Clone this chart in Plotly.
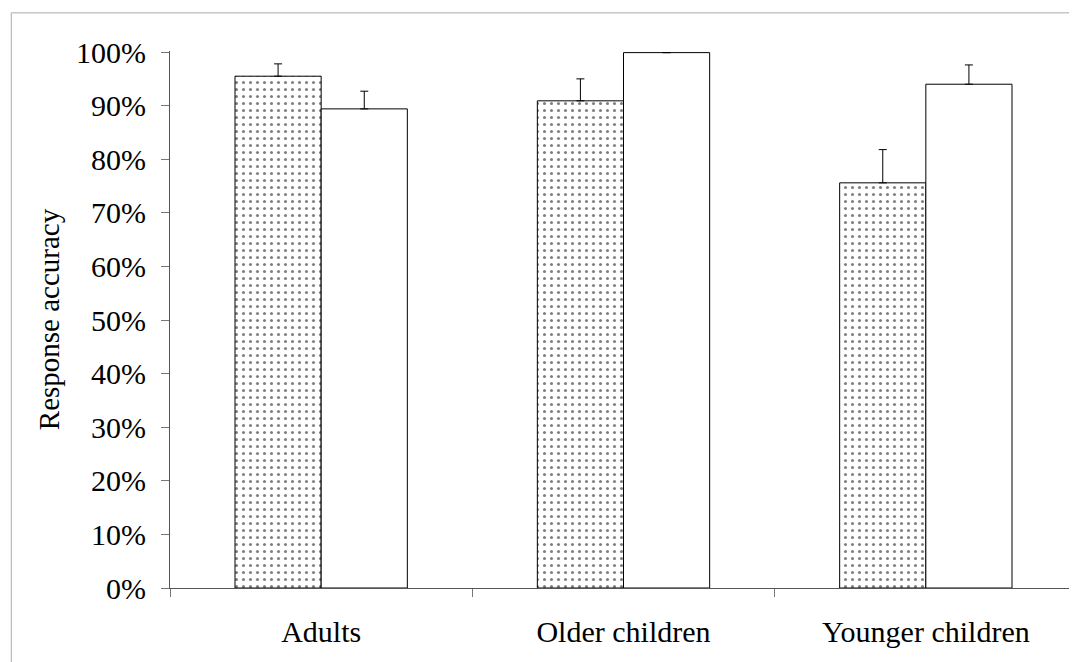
import plotly.graph_objects as go

categories = ["Adults", "Older children", "Younger children"]
series_a_values = [95.5, 90.9, 75.6]
series_a_errors = [2.3, 4.1, 6.2]
series_b_values = [89.4, 99.9, 94.0]
series_b_errors = [3.3, 0.0, 3.6]
y_tick_values = [0, 10, 20, 30, 40, 50, 60, 70, 80, 90, 100]
y_tick_labels = ["0%", "10%", "20%", "30%", "40%", "50%", "60%", "70%", "80%", "90%", "100%"]

font_family = "Liberation Serif, Times New Roman, serif"

fig = go.Figure()
fig.add_trace(go.Bar(
    x=categories, y=series_a_values,
    marker=dict(color="white", line=dict(color="black", width=1),
                pattern=dict(shape=".", fgcolor="black", bgcolor="white", size=7, solidity=0.15)),
    error_y=dict(type="data", symmetric=False, array=series_a_errors,
                 arrayminus=[0, 0, 0], color="black", thickness=1, width=4),
    showlegend=False,
))
fig.add_trace(go.Bar(
    x=categories, y=series_b_values,
    marker=dict(color="white", line=dict(color="black", width=1)),
    error_y=dict(type="data", symmetric=False, array=series_b_errors,
                 arrayminus=[0, 0, 0], color="black", thickness=1, width=4),
    showlegend=False,
))

fig.update_layout(
    width=1069, height=654,
    margin=dict(l=162, r=0, t=43, b=74),
    paper_bgcolor="white", plot_bgcolor="white",
    barmode="group", bargap=0.43, bargroupgap=0,
    font=dict(family=font_family, size=30, color="black"),
    xaxis=dict(
        showline=True, linecolor="#555555", linewidth=1,
        ticks="outside", tickson="boundaries", ticklen=8, tickcolor="#777777",
        showgrid=False, ticklabelstandoff=17,
        tickfont=dict(family=font_family, size=30, color="black"),
    ),
    yaxis=dict(
        range=[0, 100.2],
        tickvals=y_tick_values, ticktext=y_tick_labels,
        showline=True, linecolor="#555555", linewidth=1,
        ticks="outside", ticklen=8, tickcolor="#777777",
        showgrid=False, zeroline=False, ticklabelstandoff=9,
        tickfont=dict(family=font_family, size=30, color="black"),
        title=dict(text="Response accuracy", font=dict(family=font_family, size=29, color="black"), standoff=7),
    ),
    shapes=[dict(type="rect", xref="paper", yref="paper",
                 x0=-0.175, x1=1.005, y0=-0.16, y1=1.071,
                 line=dict(color="#aaaaaa", width=1), fillcolor="rgba(0,0,0,0)", layer="below")],
)

fig.write_html("out.html")
